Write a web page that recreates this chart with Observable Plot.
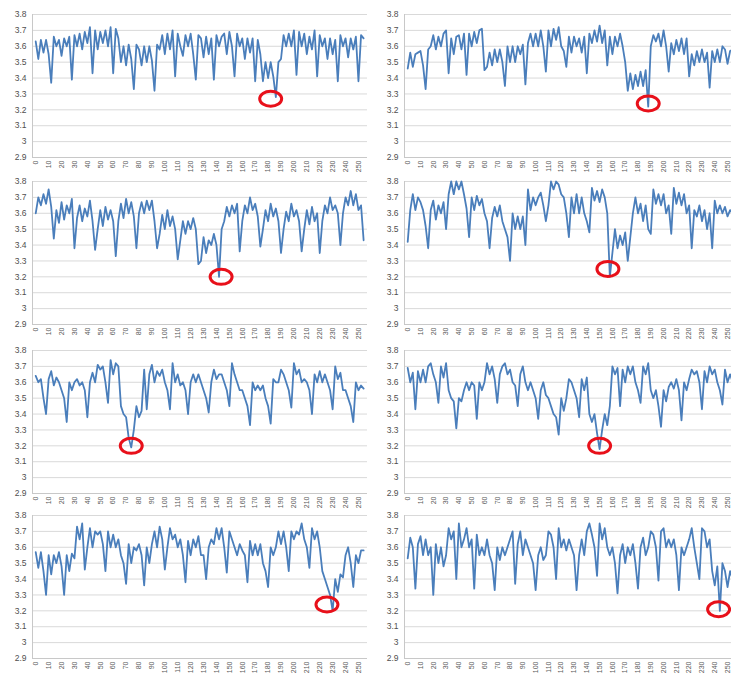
<!DOCTYPE html>
<html><head><meta charset="utf-8">
<script src="https://cdn.jsdelivr.net/npm/d3@7"></script>
<script src="https://cdn.jsdelivr.net/npm/@observablehq/plot@0.6"></script>
<style>
html,body{margin:0;padding:0;background:#fff;}
#wrap{position:relative;width:731px;height:675px;overflow:hidden;background:#fff;}
#wrap svg{position:absolute;}
</style></head><body><div id="wrap"></div>
<script>
// categories (day index), sampled every 2
const xs = d3.range(0, 256, 2);
const xTicks = d3.range(0, 260, 10);
const yTicks = [2.9, 3.0, 3.1, 3.2, 3.3, 3.4, 3.5, 3.6, 3.7, 3.8];

const series1 = [3.63,3.52,3.64,3.56,3.64,3.55,3.37,3.66,3.6,3.64,3.54,3.65,3.6,3.66,3.39,3.67,3.6,3.68,3.58,3.69,3.62,3.72,3.43,3.7,3.58,3.69,3.62,3.7,3.6,3.72,3.43,3.71,3.65,3.5,3.6,3.48,3.61,3.52,3.33,3.61,3.58,3.48,3.6,3.5,3.6,3.51,3.32,3.61,3.58,3.67,3.55,3.68,3.58,3.7,3.41,3.68,3.6,3.54,3.67,3.6,3.68,3.55,3.39,3.67,3.65,3.53,3.66,3.55,3.65,3.39,3.67,3.6,3.66,3.68,3.55,3.69,3.6,3.41,3.68,3.6,3.65,3.52,3.65,3.56,3.65,3.38,3.64,3.55,3.38,3.5,3.4,3.5,3.41,3.28,3.5,3.52,3.67,3.6,3.68,3.6,3.7,3.42,3.69,3.6,3.68,3.55,3.66,3.58,3.7,3.41,3.67,3.6,3.65,3.52,3.65,3.55,3.64,3.38,3.67,3.6,3.65,3.53,3.65,3.58,3.66,3.38,3.67,3.65];
const series2 = [3.46,3.56,3.47,3.55,3.56,3.57,3.48,3.33,3.58,3.6,3.67,3.58,3.66,3.6,3.68,3.7,3.43,3.65,3.55,3.66,3.67,3.58,3.68,3.42,3.68,3.6,3.69,3.62,3.7,3.71,3.45,3.47,3.56,3.48,3.58,3.5,3.58,3.5,3.35,3.6,3.5,3.6,3.5,3.6,3.55,3.61,3.36,3.62,3.68,3.6,3.68,3.6,3.7,3.6,3.44,3.7,3.6,3.71,3.64,3.72,3.6,3.57,3.47,3.66,3.56,3.66,3.6,3.65,3.56,3.66,3.43,3.68,3.62,3.7,3.63,3.73,3.62,3.7,3.48,3.66,3.55,3.66,3.6,3.68,3.6,3.5,3.32,3.43,3.33,3.42,3.35,3.44,3.35,3.45,3.22,3.6,3.67,3.63,3.68,3.6,3.7,3.6,3.44,3.62,3.55,3.64,3.57,3.65,3.55,3.65,3.41,3.55,3.48,3.57,3.5,3.58,3.5,3.56,3.34,3.57,3.5,3.58,3.5,3.6,3.58,3.49,3.57,3.58];
const series3 = [3.6,3.7,3.65,3.72,3.66,3.75,3.64,3.44,3.62,3.54,3.67,3.56,3.65,3.6,3.69,3.38,3.57,3.65,3.55,3.63,3.58,3.68,3.55,3.37,3.5,3.62,3.52,3.64,3.56,3.62,3.55,3.33,3.55,3.66,3.57,3.69,3.6,3.67,3.58,3.38,3.6,3.67,3.6,3.68,3.62,3.68,3.55,3.38,3.47,3.59,3.5,3.62,3.52,3.58,3.5,3.31,3.43,3.55,3.47,3.55,3.5,3.57,3.5,3.28,3.3,3.45,3.35,3.43,3.4,3.47,3.4,3.2,3.5,3.55,3.64,3.58,3.65,3.6,3.66,3.36,3.55,3.65,3.6,3.7,3.62,3.66,3.58,3.39,3.5,3.62,3.55,3.66,3.58,3.63,3.55,3.35,3.5,3.61,3.55,3.66,3.58,3.62,3.55,3.36,3.5,3.62,3.53,3.64,3.55,3.6,3.35,3.55,3.65,3.6,3.7,3.62,3.65,3.6,3.4,3.6,3.7,3.65,3.74,3.65,3.72,3.62,3.65,3.43];
const series4 = [3.42,3.62,3.72,3.62,3.7,3.67,3.62,3.52,3.38,3.62,3.68,3.56,3.65,3.6,3.67,3.5,3.72,3.8,3.72,3.8,3.75,3.8,3.72,3.63,3.45,3.7,3.62,3.71,3.65,3.69,3.6,3.55,3.38,3.57,3.64,3.58,3.65,3.55,3.5,3.45,3.3,3.6,3.5,3.58,3.5,3.58,3.4,3.75,3.62,3.7,3.65,3.7,3.73,3.65,3.55,3.65,3.8,3.75,3.8,3.78,3.72,3.7,3.6,3.45,3.7,3.6,3.72,3.6,3.7,3.6,3.55,3.48,3.76,3.68,3.74,3.67,3.75,3.7,3.6,3.2,3.35,3.5,3.38,3.46,3.4,3.48,3.3,3.45,3.6,3.7,3.6,3.66,3.55,3.65,3.5,3.47,3.75,3.66,3.72,3.65,3.72,3.6,3.65,3.47,3.76,3.66,3.73,3.65,3.72,3.6,3.65,3.38,3.62,3.58,3.65,3.55,3.62,3.5,3.6,3.38,3.68,3.6,3.65,3.6,3.64,3.58,3.62,3.6];
const series5 = [3.64,3.6,3.62,3.5,3.4,3.62,3.67,3.58,3.63,3.6,3.55,3.5,3.35,3.6,3.55,3.6,3.62,3.58,3.6,3.55,3.38,3.6,3.66,3.6,3.71,3.68,3.7,3.6,3.47,3.74,3.65,3.72,3.7,3.45,3.4,3.38,3.25,3.19,3.3,3.45,3.38,3.42,3.68,3.43,3.65,3.71,3.6,3.67,3.64,3.68,3.6,3.55,3.43,3.72,3.6,3.65,3.58,3.6,3.55,3.4,3.6,3.65,3.6,3.65,3.6,3.55,3.5,3.41,3.6,3.68,3.62,3.65,3.65,3.6,3.55,3.45,3.72,3.65,3.6,3.55,3.55,3.5,3.45,3.33,3.6,3.55,3.58,3.55,3.58,3.5,3.45,3.34,3.62,3.6,3.6,3.68,3.65,3.6,3.55,3.44,3.72,3.65,3.68,3.6,3.62,3.6,3.55,3.4,3.65,3.6,3.67,3.6,3.65,3.6,3.55,3.43,3.7,3.62,3.66,3.55,3.55,3.5,3.45,3.35,3.6,3.55,3.58,3.56];
const series6 = [3.69,3.6,3.66,3.43,3.67,3.6,3.68,3.6,3.7,3.72,3.65,3.6,3.47,3.7,3.63,3.72,3.55,3.5,3.48,3.31,3.5,3.48,3.55,3.6,3.55,3.6,3.58,3.37,3.6,3.55,3.6,3.72,3.65,3.7,3.62,3.47,3.65,3.7,3.72,3.65,3.68,3.6,3.58,3.45,3.65,3.7,3.6,3.55,3.6,3.55,3.5,3.37,3.55,3.6,3.52,3.5,3.45,3.4,3.38,3.27,3.5,3.42,3.5,3.62,3.6,3.55,3.5,3.38,3.62,3.55,3.63,3.4,3.35,3.4,3.28,3.18,3.3,3.4,3.33,3.45,3.7,3.65,3.69,3.45,3.68,3.6,3.7,3.65,3.7,3.6,3.55,3.47,3.7,3.65,3.72,3.55,3.5,3.55,3.45,3.32,3.55,3.48,3.57,3.6,3.56,3.62,3.55,3.36,3.6,3.55,3.62,3.68,3.65,3.67,3.6,3.43,3.67,3.6,3.7,3.65,3.68,3.6,3.55,3.46,3.68,3.6,3.65,3.6];
const series7 = [3.57,3.47,3.57,3.45,3.3,3.55,3.43,3.55,3.5,3.57,3.48,3.3,3.55,3.45,3.56,3.53,3.73,3.65,3.75,3.46,3.6,3.72,3.6,3.7,3.68,3.7,3.62,3.45,3.7,3.6,3.68,3.6,3.65,3.55,3.5,3.37,3.62,3.5,3.6,3.58,3.62,3.55,3.36,3.6,3.5,3.62,3.7,3.6,3.73,3.65,3.46,3.6,3.72,3.65,3.68,3.6,3.65,3.55,3.38,3.64,3.55,3.65,3.6,3.67,3.55,3.55,3.4,3.6,3.65,3.62,3.72,3.65,3.72,3.6,3.44,3.7,3.65,3.6,3.55,3.62,3.58,3.55,3.38,3.64,3.55,3.62,3.55,3.62,3.5,3.45,3.35,3.6,3.55,3.6,3.7,3.62,3.7,3.6,3.45,3.7,3.65,3.7,3.68,3.75,3.65,3.6,3.47,3.72,3.65,3.7,3.6,3.45,3.4,3.35,3.3,3.2,3.4,3.32,3.43,3.41,3.55,3.6,3.5,3.35,3.55,3.5,3.58,3.58];
const series8 = [3.53,3.66,3.6,3.34,3.62,3.67,3.55,3.65,3.55,3.6,3.3,3.62,3.5,3.6,3.48,3.55,3.72,3.65,3.7,3.4,3.75,3.6,3.65,3.72,3.6,3.65,3.34,3.68,3.55,3.6,3.55,3.65,3.55,3.5,3.33,3.6,3.52,3.6,3.55,3.6,3.65,3.7,3.37,3.62,3.7,3.55,3.65,3.6,3.55,3.5,3.33,3.55,3.6,3.52,3.55,3.7,3.68,3.6,3.4,3.72,3.6,3.65,3.58,3.65,3.6,3.55,3.33,3.55,3.65,3.55,3.7,3.75,3.68,3.6,3.42,3.75,3.65,3.72,3.6,3.55,3.6,3.5,3.31,3.55,3.62,3.5,3.6,3.55,3.62,3.5,3.34,3.6,3.66,3.55,3.6,3.7,3.68,3.6,3.39,3.7,3.72,3.6,3.65,3.6,3.65,3.55,3.33,3.6,3.55,3.6,3.65,3.72,3.6,3.5,3.4,3.72,3.7,3.6,3.65,3.45,3.36,3.48,3.2,3.5,3.45,3.35,3.45,3.4];

// red ellipse markers around each minimum (x, y)
const markX = [182, 188, 143.6, 156.5, 74, 150, 225.6, 243];
const markY = [3.27, 3.24, 3.2, 3.25, 3.2, 3.2, 3.24, 3.21];

const allSeries = [series1, series2, series3, series4, series5, series6, series7, series8];

// layout
const rowTop = [14, 181, 350, 515]; // y of the 3.8 gridline
const plotH = 143;
const mTop = 10, mBottom = 22;
const xDomain = [-2.5, 257];

const ellipse = {
  draw(ctx) {
    const rx = 11, ry = 7.5, k = 0.5523;
    ctx.moveTo(rx, 0);
    ctx.bezierCurveTo(rx, ry * k, rx * k, ry, 0, ry);
    ctx.bezierCurveTo(-rx * k, ry, -rx, ry * k, -rx, 0);
    ctx.bezierCurveTo(-rx, -ry * k, -rx * k, -ry, 0, -ry);
    ctx.bezierCurveTo(rx * k, -ry, rx, -ry * k, rx, 0);
    ctx.closePath();
  }
};

const wrap = document.getElementById("wrap");
allSeries.forEach((vals, p) => {
  const row = Math.floor(p / 2), col = p % 2;
  const left = col === 0 ? 0 : 365;
  const marginLeft = col === 0 ? 32 : 39;
  const plotW = col === 0 ? 335 : 332;
  const width = marginLeft + plotW + 3;
  const data = vals.map((v, i) => ({x: xs[i], y: v}));
  const chart = Plot.plot({
    width,
    height: mTop + plotH + mBottom,
    marginTop: mTop, marginBottom: mBottom,
    marginLeft, marginRight: 3,
    style: {background: "transparent", fontFamily: "'Liberation Sans', Arial, sans-serif"},
    x: {domain: xDomain},
    y: {domain: [2.9, 3.8]},
    marks: [
      Plot.gridY(yTicks, {stroke: "#d9d9d9", strokeOpacity: 1, strokeWidth: 1}),
      Plot.ruleX([xDomain[0]], {stroke: "#c8c8c8", strokeWidth: 1}),
      Plot.ruleY([2.9], {stroke: "#c8c8c8", strokeWidth: 1.2}),
      Plot.axisY(yTicks, {tickSize: 0, tickPadding: 6, fontSize: 8.5, fill: "#505050", label: null,
        tickFormat: d => String(+d.toFixed(1))}),
      Plot.axisX(xTicks, {tickSize: 0, tickPadding: 3, tickRotate: -90, fontSize: 7, fill: "#5a5a5a", label: null}),
      Plot.line(data, {x: "x", y: "y", stroke: "#4a7ebb", strokeWidth: 1.8, strokeLinejoin: "round"}),
      Plot.dot([{x: markX[p], y: markY[p]}], {x: "x", y: "y", symbol: ellipse, stroke: "#e8101a", strokeWidth: 3, fill: "none"})
    ]
  });
  chart.style.left = left + "px";
  chart.style.top = (rowTop[row] - mTop) + "px";
  wrap.appendChild(chart);
});
</script></body></html>
